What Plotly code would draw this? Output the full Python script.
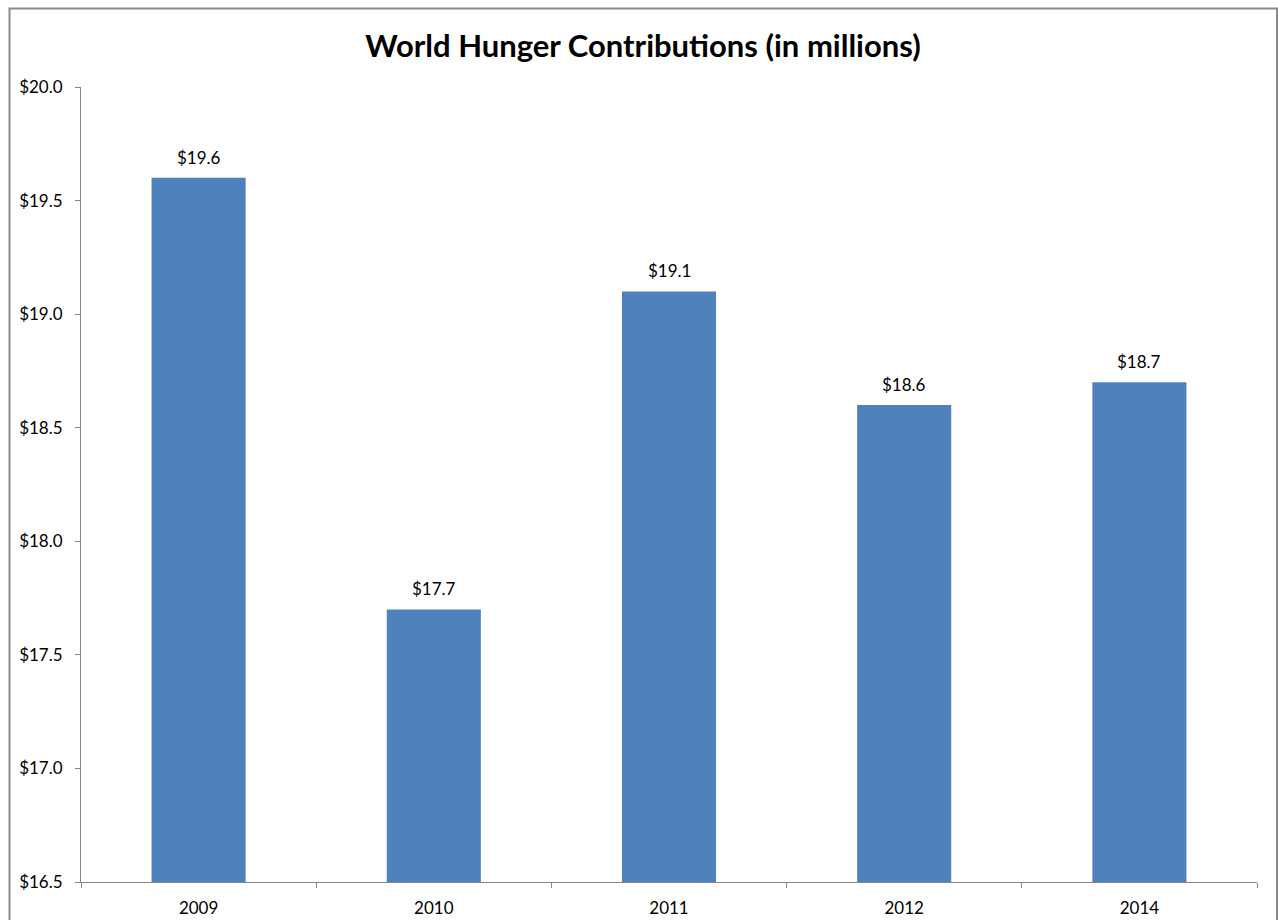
import plotly.graph_objects as go

# Contributions per year (in millions of dollars)
years = ["2009", "2010", "2011", "2012", "2014"]
amounts = [19.6, 17.7, 19.1, 18.6, 18.7]
y_ticks = [16.5, 17.0, 17.5, 18.0, 18.5, 19.0, 19.5, 20.0]
y_tick_labels = ["$%.1f" % v for v in y_ticks]

FONT = "Lato, Open Sans, sans-serif"
BAR_COLOR = "#4F81BD"
AXIS_COLOR = "#868686"

fig = go.Figure(
    go.Bar(
        x=years,
        y=amounts,
        marker=dict(color=BAR_COLOR, line=dict(width=0)),
        width=0.4,
        cliponaxis=True,
        hoverinfo="x+y",
    )
)

# Value labels above each bar (category axis positions by index)
for i, val in enumerate(amounts):
    fig.add_annotation(
        x=i, y=val, xref="x", yref="y",
        text="$%.1f" % val, showarrow=False,
        xanchor="center", yanchor="bottom", yshift=8,
        font=dict(family=FONT, size=17, color="#000000"),
    )

W, H = 1278, 920
ml, mr, mt, mb = 81, 21, 87, 38
pw, ph = W - ml - mr, H - mt - mb


def px_x(p):
    return (p - ml) / pw


def px_y(p):
    return (H - mb - p) / ph


# Outer chart border
fig.add_shape(
    type="rect", xref="paper", yref="paper",
    x0=px_x(9.5), x1=px_x(1277), y0=px_y(930), y1=px_y(8.5),
    line=dict(color="#8a8a8a", width=2), fillcolor="rgba(0,0,0,0)",
    layer="below",
)

fig.update_layout(
    width=W, height=H,
    margin=dict(l=ml, r=mr, t=mt, b=mb, pad=0, autoexpand=False),
    paper_bgcolor="white", plot_bgcolor="white",
    showlegend=False,
    title=dict(
        text="<b>World Hunger Contributions (in millions)</b>",
        x=643 / W, xref="container", xanchor="center",
        y=1 - 46 / H, yref="container", yanchor="middle",
        font=dict(family=FONT, size=31, color="#000000"),
    ),
)

fig.update_xaxes(
    type="category", categoryorder="array", categoryarray=years,
    range=[-0.5, len(years) - 0.5],
    showline=True, linecolor=AXIS_COLOR, linewidth=1,
    ticks="outside", tickson="boundaries", ticklen=5, tickcolor=AXIS_COLOR,
    showgrid=False, automargin=False, tickangle=0,
    tickfont=dict(family=FONT, size=17, color="#000000"),
    ticklabelstandoff=11,
)
fig.update_yaxes(
    range=[16.5, 20.0],
    tickvals=y_ticks, ticktext=y_tick_labels,
    showline=True, linecolor=AXIS_COLOR, linewidth=1,
    ticks="outside", ticklen=5, tickcolor=AXIS_COLOR,
    showgrid=False, zeroline=False, automargin=False,
    tickfont=dict(family=FONT, size=17, color="#000000"),
    ticklabelstandoff=9,
)

fig.write_html("out.html")
